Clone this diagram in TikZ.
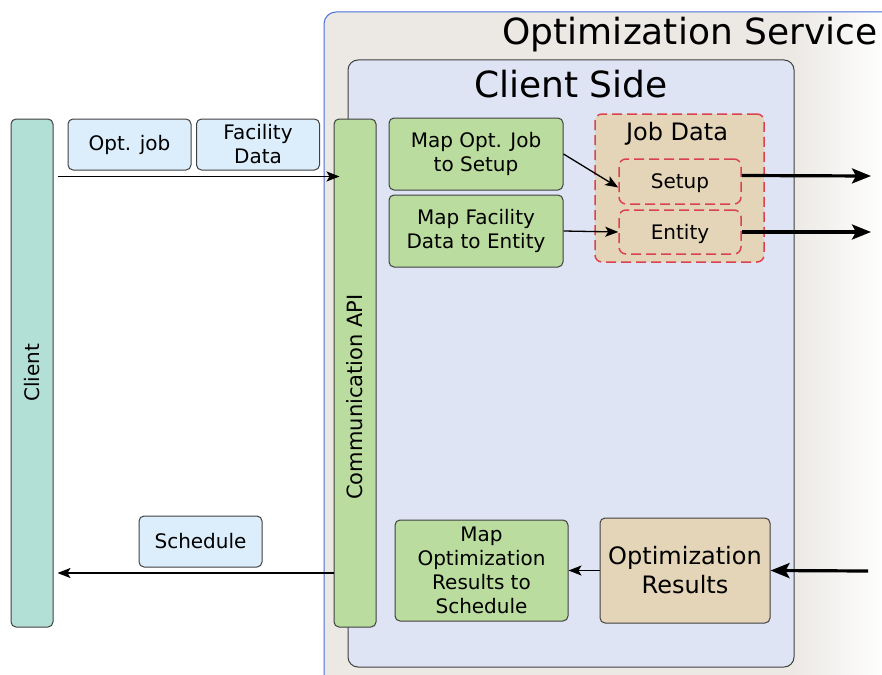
\documentclass[tikz,border=0pt]{standalone}
\usepackage{fontspec}
\setmainfont{DejaVu Sans}
\usetikzlibrary{shapes,arrows.meta,positioning}
\definecolor{servc}{HTML}{ECE9E5}
\definecolor{servb}{HTML}{4A6FD8}
\definecolor{sidec}{HTML}{DFE4F4}
\definecolor{clientc}{HTML}{B3E0D6}
\definecolor{taskc}{HTML}{BBDC9F}
\definecolor{msgc}{HTML}{DCEEFB}
\definecolor{datac}{HTML}{E4D4B8}
\definecolor{dashc}{HTML}{D9434F}
\definecolor{boxline}{HTML}{404040}
\tikzset{
	line/.style={draw, -{Stealth[length=13pt, width=10pt, inset=3pt]}, line width=1.6pt},
	wide/.style={draw, -{Stealth[length=19pt, width=15pt, inset=4pt]}, line width=3.2pt},
	box/.style={draw=boxline, line width=1pt, rounded corners=5pt, align=center, inner sep=0pt},
	lbl/.style={font={\fontsize{20}{24}\selectfont}},
	mid/.style={font={\fontsize{24}{29}\selectfont}},
	ttl/.style={font={\fontsize{36}{43}\selectfont}},
	bar/.style={box, lbl, minimum width=42pt, minimum height=508pt},
	msg/.style={box, lbl, fill=msgc, minimum width=123pt, minimum height=51pt},
	task/.style={box, lbl, fill=taskc, minimum width=174pt},
	dbox/.style={draw=dashc, fill=datac, line width=1.5pt, dash pattern=on 10pt off 5pt,
		rounded corners=7pt, inner sep=0pt, lbl, text depth=0pt, minimum width=122pt, minimum height=45pt}
}

\begin{document}
\begin{tikzpicture}[x=1pt, y=-1pt]
	\useasboundingbox (0,0) rectangle (882,674);
	\clip (0,0) rectangle (882,674);
	% service background
	\fill[servc, rounded corners=12pt] (324,12) rectangle (900,700);
	\shade[left color=servc, right color=white!96!servc] (794,13) rectangle (882,674);
	\draw[servb, line width=1pt, rounded corners=12pt] (324,700) -- (324,12) -- (900,12);
	\node[ttl] (service) at (690,35) {Optimization Service};

	% client side
	\node[box, fill=sidec, rounded corners=10pt, minimum width=446pt, minimum height=607pt] (side) at (571,363.5) {};
	\node[ttl] (sidetitle) at (571,84) {Client Side};

	\node[bar, fill=clientc] (client) at (32,373) {\rotatebox{90}{Client}};
	\node[bar, fill=taskc] (api) at (355,373) {\rotatebox{90}{\fontsize{21}{25}\selectfont Communication API\hspace{48pt}}};

	\node[msg] (optjob) at (129.5,144.5) {Opt. job};
	\node[msg] (facdata) at (258,144.5) {Facility\\Data};
	\node[msg] (sched) at (200.5,541.5) {Schedule};

	\node[task, minimum height=72pt] (mapjob) at (476,154) {Map Opt. Job\\to Setup};
	\node[task, minimum height=72pt] (mapfac) at (476,231) {Map Facility\\Data to Entity};

	% job data
	\node[dbox, minimum width=169pt, minimum height=148pt] (jobdata) at (679.5,188) {};
	\node[mid] (jobtitle) at (677,133.5) {Job Data};
	\node[dbox] (setup) at (680,181.5) {Setup};
	\node[dbox, minimum height=44pt] (entity) at (680,232) {Entity};

	% results
	\node[box, mid, fill=datac, minimum width=170pt, minimum height=105pt] (optres) at (685,570.5) {Optimization\\Results};
	\node[task, minimum width=173pt, minimum height=101pt] (mapres) at (481.5,570.5) {Map\\Optimization\\Results to\\Schedule};

	\coordinate (setupout) at (871,176);
	\coordinate (entityout) at (871,232);
	\coordinate (resin) at (868,571);

	% connectors
	\draw[line] ([shift={(4,6)}]client.east |- optjob.south) -- ([shift={(6,6)}]api.west |- optjob.south);
	\draw[line] (api.west |- 0,573) -- ([xshift=4pt]client.east |- 0,573);
	\draw[line, line width=1.3pt] (mapjob.east) -- ([shift={(0,6)}]setup.west);
	\draw[line, line width=1.3pt] (mapfac.east) -- (entity.west);
	\draw[wide] ([shift={(0,-6)}]setup.east) -- (setupout);
	\draw[wide] (entity.east) -- (entityout);
	\draw[wide] (resin) -- (optres.east);
	\draw[line, line width=1.3pt] (optres.west) -- (mapres.east);
\end{tikzpicture}
\end{document}
